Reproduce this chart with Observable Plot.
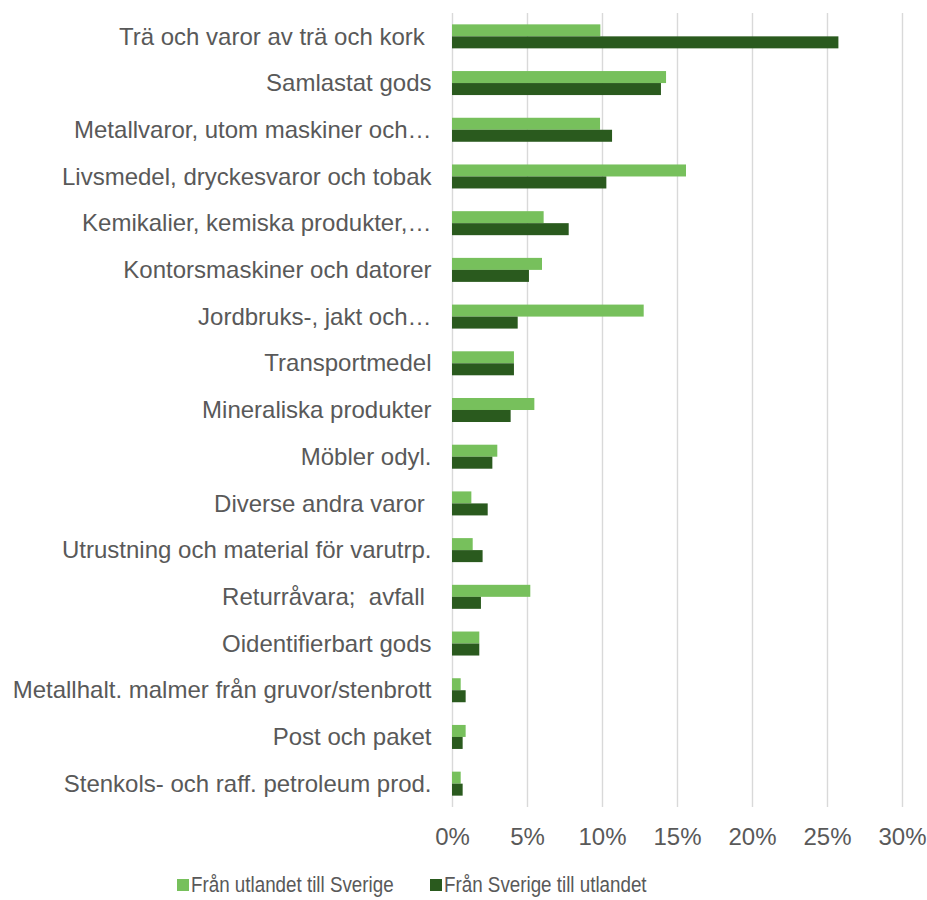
<!DOCTYPE html>
<html>
<head>
<meta charset="utf-8">
<script src="https://cdn.jsdelivr.net/npm/d3@7"></script>
<script src="https://cdn.jsdelivr.net/npm/@observablehq/plot@0.6"></script>
<style>
  html, body { margin: 0; padding: 0; background: #fff; }
  #chart svg text { white-space: pre; }
  .legend { position: relative; height: 30px; margin-top: 22px;
    font-family: "Liberation Sans", Arial, sans-serif; font-size: 22.5px; color: #595959; }
  .legend .item { position: absolute; top: 0; display: flex; align-items: center; white-space: nowrap; }
  .legend .sw { width: 12px; height: 12px; display: inline-block; margin-right: 2px; }
  .legend .txt { display: inline-block; transform: scaleX(0.835); transform-origin: left center; }
</style>
</head>
<body>
<div id="chart"></div>
<script>
const categories = [
  "Trä och varor av trä och kork ",
  "Samlastat gods",
  "Metallvaror, utom maskiner och…",
  "Livsmedel, dryckesvaror och tobak",
  "Kemikalier, kemiska produkter,…",
  "Kontorsmaskiner och datorer",
  "Jordbruks-, jakt och…",
  "Transportmedel",
  "Mineraliska produkter",
  "Möbler odyl.",
  "Diverse andra varor ",
  "Utrustning och material för varutrp.",
  "Returråvara;  avfall ",
  "Oidentifierbart gods",
  "Metallhalt. malmer från gruvor/stenbrott",
  "Post och paket",
  "Stenkols- och raff. petroleum prod."
];
const fromAbroad = [0.0989, 0.1427, 0.0987, 0.1560, 0.0611, 0.0600, 0.1278, 0.0413, 0.0549, 0.0302, 0.0129, 0.0138, 0.0522, 0.0182, 0.0058, 0.0091, 0.0058];
const fromSweden = [0.2576, 0.1393, 0.1067, 0.1029, 0.0778, 0.0513, 0.0438, 0.0413, 0.0391, 0.0269, 0.0238, 0.0204, 0.0193, 0.0182, 0.0091, 0.0071, 0.0071];
const seriesNames = ["Från utlandet till Sverige", "Från Sverige till utlandet"];
const seriesColors = ["#77c05c", "#2a5a1e"];
const xTicks = [0, 0.05, 0.10, 0.15, 0.20, 0.25, 0.30];

const rowsA = categories.map((c, i) => ({category: c, value: fromAbroad[i]}));
const rowsS = categories.map((c, i) => ({category: c, value: fromSweden[i]}));

const chart = Plot.plot({
  width: 927,
  height: 850,
  marginLeft: 452,
  marginRight: 25,
  marginTop: 13,
  marginBottom: 43,
  style: {fontFamily: "'Liberation Sans', Arial, sans-serif", fontSize: "24px", color: "#595959", background: "#fff"},
  x: {domain: [0, 0.30], ticks: xTicks, tickFormat: d3.format(".0%"), label: null, tickSize: 0, tickPadding: 20},
  y: {domain: categories, padding: 0, round: false, label: null, tickSize: 0, tickPadding: 21},
  marks: [
    Plot.ruleX(xTicks, {stroke: "#d9d9d9", strokeWidth: 1.4}),
    Plot.barX(rowsA, {y: "category", x: "value", fill: seriesColors[0], insetTop: 11.35, insetBottom: 23.35}),
    Plot.barX(rowsS, {y: "category", x: "value", fill: seriesColors[1], insetTop: 23.35, insetBottom: 11.35})
  ]
});
document.getElementById("chart").appendChild(chart);

const legendLeft = [177, 430];
const legend = document.createElement("div");
legend.className = "legend";
seriesNames.forEach((name, i) => {
  const item = document.createElement("div");
  item.className = "item";
  item.style.left = legendLeft[i] + "px";
  const sw = document.createElement("span");
  sw.className = "sw";
  sw.style.background = seriesColors[i];
  const t = document.createElement("span");
  t.className = "txt";
  t.textContent = name;
  item.appendChild(sw);
  item.appendChild(t);
  legend.appendChild(item);
});
document.body.appendChild(legend);
</script>
</body>
</html>
